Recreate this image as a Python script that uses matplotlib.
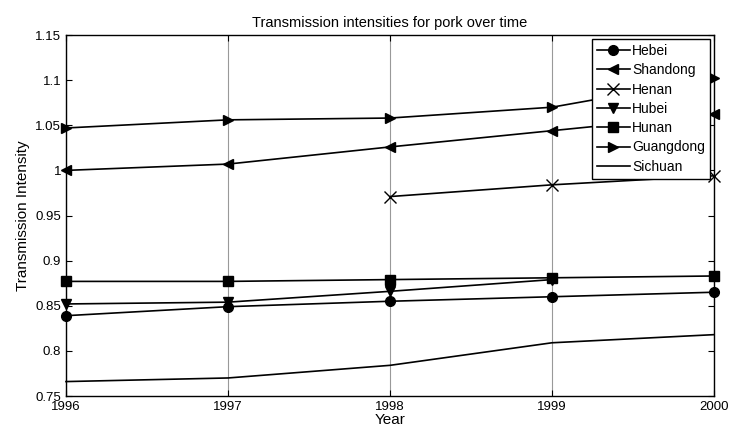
import numpy as np
import matplotlib
matplotlib.use("Agg")
import matplotlib.pyplot as plt
from matplotlib.ticker import FuncFormatter

plt.rcParams['font.family'] = ['Liberation Sans', 'DejaVu Sans']

years = [1996, 1997, 1998, 1999, 2000]
hebei = [0.839, 0.849, 0.855, 0.860, 0.865]
shandong = [1.000, 1.007, 1.026, 1.044, 1.062]
henan = [np.nan, np.nan, 0.971, 0.984, 0.994]
hubei = [0.852, 0.854, 0.866, 0.879, np.nan]
hunan = [0.877, 0.877, 0.879, 0.881, 0.883]
guangdong = [1.047, 1.056, 1.058, 1.070, 1.102]
sichuan = [0.766, 0.770, 0.784, 0.809, 0.818]

series = [
    ("Hebei", hebei, "o"),
    ("Shandong", shandong, "<"),
    ("Henan", henan, "x"),
    ("Hubei", hubei, "v"),
    ("Hunan", hunan, "s"),
    ("Guangdong", guangdong, ">"),
    ("Sichuan", sichuan, None),
]

fig = plt.figure(figsize=(7.34, 4.36), dpi=100)
ax = fig.add_axes([0.0899, 0.0917, 0.8829, 0.828])

for name, vals, mk in series:
    ms = 8 if mk == "x" else 7
    ax.plot(years, vals, color="black", linewidth=1.2, marker=mk, markersize=ms,
            markerfacecolor="black", markeredgecolor="black", label=name, clip_on=False)

ax.set_xlim(1996, 2000)
ax.set_ylim(0.75, 1.15)
ax.set_xticks(years)
ax.set_yticks(np.arange(0.75, 1.1501, 0.05))
ax.yaxis.set_major_formatter(FuncFormatter(lambda v, p: "%g" % round(v, 2)))
ax.xaxis.grid(True, color="#999999", linewidth=0.8)
ax.tick_params(direction="in", labelsize=9.5, length=4, top=True, right=True,
               labeltop=False, labelright=False)
for s in ax.spines.values():
    s.set_linewidth(1.0)

ax.set_title("Transmission intensities for pork over time", fontsize=10.5)
ax.set_xlabel("Year", fontsize=11, labelpad=0)
ax.set_ylabel("Transmission Intensity", fontsize=11, labelpad=4)

leg = ax.legend(loc="upper right", fontsize=10, fancybox=False, framealpha=1,
                edgecolor="black", handlelength=2.4, handletextpad=0.15,
                borderpad=0.35, labelspacing=0.38, borderaxespad=0.3)
leg.get_frame().set_linewidth(1.0)

fig.savefig("out.png", dpi=100)
